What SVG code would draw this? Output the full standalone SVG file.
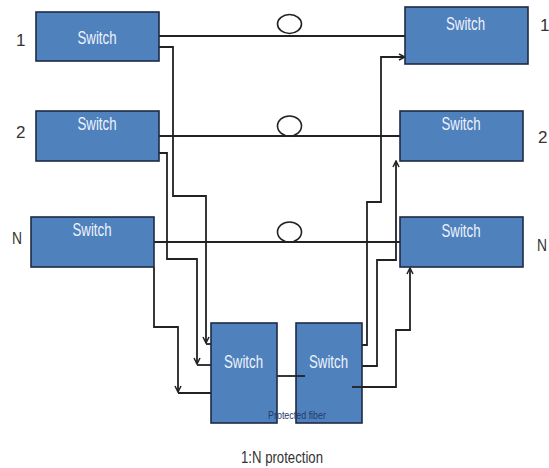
<svg xmlns="http://www.w3.org/2000/svg" width="549" height="468" viewBox="0 0 549 468">
<style>
.sw{fill:#4f81bd;stroke:#1d2a45;stroke-width:1.6}
.st{font-family:"Liberation Sans",Arial,sans-serif;font-size:18px;fill:#eef3fb;text-anchor:middle}
.lb{font-family:"Liberation Sans",Arial,sans-serif;font-size:17px;fill:#333}
.ln{fill:none;stroke:#222;stroke-width:1.8}
.ci{fill:none;stroke:#222;stroke-width:1.6}
</style>
<defs>
<marker id="ah" viewBox="0 0 8 8" refX="7" refY="4" markerWidth="8" markerHeight="8" markerUnits="userSpaceOnUse" orient="auto">
<path d="M1,1 L7,4 L1,7" fill="none" stroke="#222" stroke-width="1.5"/>
</marker>
</defs>
<rect width="549" height="468" fill="#fff"/>
<g id="connectors">
<path class="ln" d="M159,36 H405"/>
<path class="ln" d="M159,136 H400"/>
<path class="ln" d="M154,242 H400"/>
<ellipse class="ci" cx="289.5" cy="24" rx="12" ry="9.5"/>
<ellipse class="ci" cx="289.5" cy="126" rx="12" ry="10"/>
<ellipse class="ci" cx="289.5" cy="232" rx="12" ry="10"/>
<path class="ln" d="M159,47 H173 V196 H206 V343" marker-end="url(#ah)"/>
<path class="ln" d="M206,344 H211"/>
<path class="ln" d="M159,153 H167 V259 H197 V364" marker-end="url(#ah)"/>
<path class="ln" d="M197,365 H211"/>
<path class="ln" d="M154,267 V327 H178 V392" marker-end="url(#ah)"/>
<path class="ln" d="M178,393 H211"/>
<path class="ln" d="M277,376 H305"/>
<path class="ln" d="M362,345 H367 V202 H381 V57 H405" marker-end="url(#ah)"/>
<path class="ln" d="M362,366 H377 V260 H396 V161" marker-end="url(#ah)"/>
<path class="ln" d="M358,387 H396 V330 H410 V268" marker-end="url(#ah)"/>
</g>
<g id="left1"><rect class="sw" x="36" y="12" width="123" height="49"/><text class="st" x="97" y="43.5" textLength="39" lengthAdjust="spacingAndGlyphs">Switch</text><text class="lb" x="16" y="46">1</text></g>
<g id="left2"><rect class="sw" x="36" y="111" width="123" height="50"/><text class="st" x="97" y="129.5" textLength="39" lengthAdjust="spacingAndGlyphs">Switch</text><text class="lb" x="16" y="138">2</text></g>
<g id="leftN"><rect class="sw" x="31" y="217" width="123" height="50"/><text class="st" x="92" y="235.5" textLength="39" lengthAdjust="spacingAndGlyphs">Switch</text><text class="lb" x="12" y="244" textLength="10" lengthAdjust="spacingAndGlyphs">N</text></g>
<g id="right1"><rect class="sw" x="405" y="7" width="123" height="57"/><text class="st" x="465.5" y="29.5" textLength="39" lengthAdjust="spacingAndGlyphs">Switch</text><text class="lb" x="540" y="31">1</text></g>
<g id="right2"><rect class="sw" x="400" y="111" width="123" height="50"/><text class="st" x="461" y="130" textLength="39" lengthAdjust="spacingAndGlyphs">Switch</text><text class="lb" x="538" y="143">2</text></g>
<g id="rightN"><rect class="sw" x="400" y="217" width="123" height="50"/><text class="st" x="461" y="236.5" textLength="39" lengthAdjust="spacingAndGlyphs">Switch</text><text class="lb" x="537" y="251" textLength="10" lengthAdjust="spacingAndGlyphs">N</text></g>
<g id="protA"><rect class="sw" x="211" y="323" width="66" height="100"/><text class="st" x="243.5" y="367.5" textLength="39" lengthAdjust="spacingAndGlyphs">Switch</text></g>
<g id="protB"><rect class="sw" x="296" y="323" width="66" height="100"/><text class="st" x="328.5" y="367.5" textLength="39" lengthAdjust="spacingAndGlyphs">Switch</text></g>
<path class="ln" d="M296,376 H305"/>
<path class="ln" d="M352,387 H362"/>
<text x="297" y="419" font-family="Liberation Sans,Arial,sans-serif" font-size="11" fill="#243a6b" text-anchor="middle" textLength="58" lengthAdjust="spacingAndGlyphs">Protected fiber</text>
<text x="282" y="463" font-family="Liberation Sans,Arial,sans-serif" font-size="17" fill="#333" text-anchor="middle" textLength="82" lengthAdjust="spacingAndGlyphs">1:N protection</text>
</svg>
